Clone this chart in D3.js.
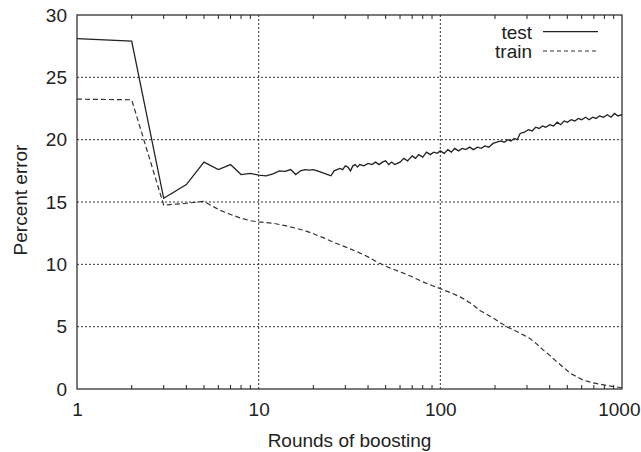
<!DOCTYPE html>
<html>
<head>
<meta charset="utf-8">
<script src="https://cdn.jsdelivr.net/npm/d3@7"></script>
<style>
  body { margin: 0; background: #fff; }
  text { font-family: "Liberation Sans", Arial, sans-serif; fill: #222; }
</style>
</head>
<body>
<svg id="chart"></svg>
<script>
// boosting rounds and error (percent)
var testRounds = [1,2,3,4,5,6,7,8,9,10,11,12,13,14,15,16,17,18,19,20,21,22,23,24,25,26,27,28,29,30,
    31,32,33,34,35,36,38,40,42,44,46,48,50,52,54,56,58,60,63,66,70,73,76,80,84,88,92,96,100,
    105,110,115,120,126,132,138,145,152,160,168,176,185,195,205,215,225,235,245,255,265,275,
    290,305,320,335,350,365,380,400,420,440,460,480,500,525,550,575,600,630,660,690,720,750,
    790,830,870,910,950,1000];
var testError = [28.1,27.9,15.3,16.4,18.2,17.6,18.0,17.2,17.3,17.15,17.1,17.25,17.5,17.45,17.6,17.2,17.5,17.6,17.55,17.6,
    17.5,17.4,17.3,17.2,17.1,17.5,17.6,17.7,17.6,17.9,17.8,17.5,17.9,18.0,17.8,18.0,17.9,18.1,18.0,18.2,
    18.0,18.2,18.3,18.0,18.2,18.0,18.1,18.2,18.5,18.3,18.7,18.5,18.8,18.6,19.0,18.8,19.0,18.9,19.1,
    18.9,19.2,19.0,19.3,19.1,19.3,19.2,19.4,19.2,19.4,19.3,19.5,19.4,19.7,19.8,19.9,19.8,20.0,19.9,20.1,20.0,20.5,
    20.6,20.8,20.7,21.0,20.9,21.1,21.0,21.2,21.1,21.4,21.2,21.5,21.4,21.6,21.5,21.7,21.6,21.8,21.6,21.8,21.7,21.9,
    21.8,22.0,21.8,22.1,21.9,22.0];

var trainRounds = [1,2,3,4,5,6,7,8,9,10,12,14,16,18,20,23,26,30,35,40,46,53,60,70,80,90,100,115,130,150,165,
    190,215,232,260,290,310,340,370,400,440,480,520,570,610,680,760,850,930,1000];
var trainError = [23.25,23.2,14.75,14.9,15.05,14.4,14.0,13.7,13.5,13.4,13.3,13.1,12.9,12.7,12.45,12.1,11.75,11.4,11.0,10.6,10.1,9.7,9.4,9.0,8.6,8.3,8.05,7.7,7.35,6.8,6.3,
    5.8,5.3,5.0,4.65,4.3,4.07,3.6,3.1,2.7,2.15,1.7,1.25,0.95,0.72,0.52,0.38,0.25,0.17,0.1];

var xTicks = [1, 10, 100, 1000];
var yTicks = [0, 5, 10, 15, 20, 25, 30];

var margin = {top: 15, right: 19, bottom: 63, left: 77},
    width = 641 - margin.left - margin.right,
    height = 452 - margin.top - margin.bottom;

var svg = d3.select("#chart")
    .attr("width", 641)
    .attr("height", 452)
    .append("g")
    .attr("transform", "translate(" + margin.left + "," + margin.top + ")");

var x = d3.scaleLog().domain([1, 1000]).range([0, width]);
var y = d3.scaleLinear().domain([0, 30]).range([height, 0]);

// minor ticks 2..9 in each decade
var minor = [];
[1, 10, 100].forEach(function(d) {
    for (var k = 2; k <= 9; k++) minor.push(d * k);
});

// grid (dotted)
svg.append("g").selectAll("line")
    .data(xTicks.slice(1, -1))
    .enter().append("line")
    .attr("x1", function(d) { return x(d); })
    .attr("x2", function(d) { return x(d); })
    .attr("y1", 0).attr("y2", height)
    .attr("stroke", "#333").attr("stroke-width", 1)
    .attr("stroke-dasharray", "2,2");
svg.append("g").selectAll("line")
    .data(yTicks.slice(1, -1))
    .enter().append("line")
    .attr("x1", 0).attr("x2", width)
    .attr("y1", function(d) { return y(d); })
    .attr("y2", function(d) { return y(d); })
    .attr("stroke", "#333").attr("stroke-width", 1)
    .attr("stroke-dasharray", "2,2");

// minor ticks, inward, bottom and top
svg.append("g").selectAll("line")
    .data(minor)
    .enter().append("line")
    .attr("x1", function(d) { return x(d); })
    .attr("x2", function(d) { return x(d); })
    .attr("y1", height).attr("y2", height - 4)
    .attr("stroke", "#222");
svg.append("g").selectAll("line")
    .data(minor)
    .enter().append("line")
    .attr("x1", function(d) { return x(d); })
    .attr("x2", function(d) { return x(d); })
    .attr("y1", 0).attr("y2", 4)
    .attr("stroke", "#222");

// axes (labels only, ticks drawn above)
var xAxis = svg.append("g")
    .attr("transform", "translate(0," + height + ")")
    .call(d3.axisBottom(x).tickValues(xTicks).tickFormat(d3.format("d")).tickSize(0).tickPadding(14));
var yAxis = svg.append("g")
    .call(d3.axisLeft(y).tickValues(yTicks).tickSize(0).tickPadding(10));
[xAxis, yAxis].forEach(function(a) {
    a.select(".domain").remove();
    a.selectAll("text").style("font-size", "19px").attr("fill", "#222");
});
// keep "1000" inside the window
xAxis.selectAll("text").filter(function(d) { return d === 1000; })
    .attr("text-anchor", "end").attr("dx", 18);

// frame
svg.append("rect")
    .attr("width", width).attr("height", height)
    .attr("fill", "none").attr("stroke", "#222").attr("stroke-width", 1.2);

var line = d3.line()
    .x(function(d) { return x(d[0]); })
    .y(function(d) { return y(d[1]); });

svg.append("path")
    .datum(d3.zip(trainRounds, trainError))
    .attr("d", line)
    .attr("fill", "none")
    .attr("stroke", "#333")
    .attr("stroke-width", 1.2)
    .attr("stroke-dasharray", "5,3");

svg.append("path")
    .datum(d3.zip(testRounds, testError))
    .attr("d", line)
    .attr("fill", "none")
    .attr("stroke", "#222")
    .attr("stroke-width", 1.3);

// legend
var legend = svg.append("g");
legend.append("text").attr("x", 455).attr("y", 23.5).attr("text-anchor", "end")
    .style("font-size", "19px").text("test");
legend.append("line").attr("x1", 466).attr("x2", 521).attr("y1", 16.7).attr("y2", 16.7)
    .attr("stroke", "#222").attr("stroke-width", 1.2);
legend.append("text").attr("x", 455).attr("y", 43).attr("text-anchor", "end")
    .style("font-size", "19px").text("train");
legend.append("line").attr("x1", 466).attr("x2", 521).attr("y1", 36).attr("y2", 36)
    .attr("stroke", "#333").attr("stroke-width", 1.2).attr("stroke-dasharray", "4,3");

// axis titles
svg.append("text")
    .attr("text-anchor", "middle")
    .attr("x", width / 2)
    .attr("y", height + 58)
    .style("font-size", "19px")
    .text("Rounds of boosting");
svg.append("text")
    .attr("text-anchor", "middle")
    .attr("transform", "rotate(-90)")
    .attr("x", -(200 - margin.top))
    .attr("y", -50)
    .style("font-size", "19px")
    .text("Percent error");
</script>
</body>
</html>
